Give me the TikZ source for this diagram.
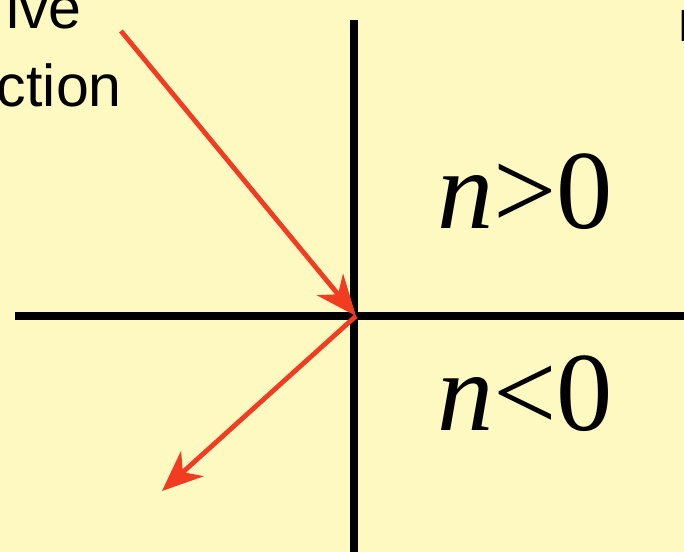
\documentclass[tikz,border=0pt]{standalone}
\usepackage{fontspec}
\setmainfont{Liberation Serif}
\newfontfamily\cutfont{Liberation Sans}
\usetikzlibrary{arrows.meta}
\definecolor{bgyellow}{RGB}{254,249,193}
\definecolor{rayred}{RGB}{241,60,34}

\begin{document}
\begin{tikzpicture}[x=0.025cm,y=-0.025cm,
    axis/.style={black,line width=5pt},
    ray/.style={rayred,line width=3.4pt,-{Stealth[length=29pt,width=24pt,inset=9pt]}},
    side/.style={font=\fontsize{80}{94}\selectfont,inner sep=0pt},
    cut/.style={font=\cutfont\fontsize{42}{50}\selectfont,inner sep=0pt}]
  % background and frame
  \fill[bgyellow] (0,0) rectangle (684,552);
  \useasboundingbox (0,0) rectangle (684,552);
  \clip (0,0) rectangle (684,552);
  % the two axes
  \coordinate (O) at (356,316);
  \coordinate (axL) at (15,316);
  \coordinate (axR) at (690,316);
  \coordinate (axT) at (354,20);
  \coordinate (axB) at (354,560);
  \draw[axis] (axL) -- (axR);
  \draw[axis] (axT) -- (axB);
  % the rays
  \coordinate (src) at (121,31);
  \coordinate (dst) at (162,491);
  \draw[ray] (src) -- (O);
  \draw[ray] (O) -- (dst);
  % labels
  \node[side,anchor=base] (upper) at (525,228) {\textit{n}>0};
  \node[side,anchor=base] (lower) at (525,430) {\textit{n}<0};
  \node[cut,anchor=base east] (cutA) at (82,28) {ive};
  \node[cut,anchor=base east] (cutB) at (122,106) {ction};
  \node[cut,anchor=base west,font=\cutfont\fontsize{32}{38}\selectfont] (cutC) at (678,42) {P};
\end{tikzpicture}
\end{document}
